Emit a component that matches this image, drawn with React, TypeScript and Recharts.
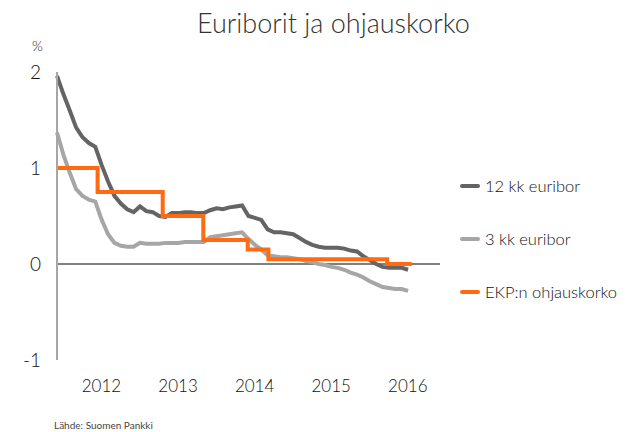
import { LineChart, Line, XAxis, YAxis, ReferenceLine } from "recharts"

// monthly values, first point = Dec 2011
const START = 2011.92
const euribor12 = [
  1.96, 1.77, 1.6, 1.42, 1.32, 1.26, 1.22, 1.03, 0.86, 0.71, 0.63, 0.57,
  0.54, 0.6, 0.55, 0.54, 0.5, 0.49, 0.53, 0.53, 0.54, 0.54, 0.53, 0.53,
  0.56, 0.58, 0.57, 0.59, 0.6, 0.61, 0.5, 0.48, 0.46, 0.36, 0.33, 0.33,
  0.32, 0.31, 0.27, 0.23, 0.2, 0.18, 0.17, 0.17, 0.17, 0.16, 0.14, 0.13,
  0.08, 0.04, 0.0, -0.03, -0.04, -0.04, -0.04, -0.06,
]
const euribor3 = [
  1.37, 1.14, 0.95, 0.78, 0.71, 0.67, 0.65, 0.46, 0.31, 0.22, 0.19, 0.18,
  0.18, 0.22, 0.21, 0.21, 0.21, 0.22, 0.22, 0.22, 0.23, 0.23, 0.23, 0.23,
  0.28, 0.29, 0.3, 0.31, 0.32, 0.33, 0.26, 0.2, 0.15, 0.09, 0.08, 0.07,
  0.07, 0.06, 0.05, 0.03, 0.02, 0.0, -0.01, -0.03, -0.04, -0.06, -0.09, -0.11,
  -0.14, -0.18, -0.21, -0.24, -0.25, -0.26, -0.26, -0.28,
]
const policyDates = [2011.92, 2012.45, 2013.3, 2013.83, 2014.41, 2014.68, 2016.23, 2016.55]
const policyRates = [1.0, 0.75, 0.5, 0.25, 0.15, 0.05, 0.0, 0.0]
const years = [2012, 2013, 2014, 2015, 2016]
const yTicks = [-1, 0, 1, 2]
const seriesNames = ["12 kk euribor", "3 kk euribor", "EKP:n ohjauskorko"]

const DARK = "#646464"
const LIGHT = "#a6a6a6"
const ORANGE = "#ff6a13"
const FONT = "Lato, 'Open Sans', sans-serif"

const euriborData = euribor12.map((v, i) => ({ t: START + i / 12, e12: v, e3: euribor3[i] }))
const policyData = policyDates.map((t, i) => ({ t, rate: policyRates[i] }))
const legendColors = [DARK, LIGHT, ORANGE]

// legend drawn outside the chart so it doesn't eat plot width
function LegendBox() {
  return (
    <div style={{ position: "absolute", left: 460, top: 176 }}>
      {seriesNames.map((name, i) => (
        <div key={name} style={{ display: "flex", alignItems: "center", height: 20, marginBottom: 33 }}>
          <span style={{ width: 20, height: 4, borderRadius: 2, background: legendColors[i], marginRight: 5 }} />
          <span style={{ fontSize: 16.5, fontWeight: 300, color: "#111" }}>{name}</span>
        </div>
      ))}
    </div>
  )
}

export default function App() {
  return (
    <div style={{ position: "absolute", left: 0, top: 0, width: 635, height: 432, overflow: "hidden", background: "#fff", fontFamily: FONT }}>
      <div style={{ position: "absolute", left: 197, top: 7, fontSize: 27, fontWeight: 300, lineHeight: "32px", color: "#333", whiteSpace: "nowrap" }}>
        Euriborit ja ohjauskorko
      </div>
      <div style={{ position: "absolute", left: 32, top: 37, fontSize: 14, fontWeight: 300, color: "#222" }}>%</div>
      <LineChart width={635} height={432} data={euriborData} margin={{ top: 72, right: 195, bottom: 42, left: 17 }}>
        <XAxis
          dataKey="t"
          type="number"
          domain={[2011.92, 2016.92]}
          ticks={years.map((y) => y + 0.5)}
          tickFormatter={(v) => `${Math.floor(v)}`}
          axisLine={false}
          tickLine={false}
          tickMargin={14}
          height={30}
          tick={{ fontSize: 17, fontWeight: 300, fill: "#111", fontFamily: FONT }}
          allowDuplicatedCategory={false}
        />
        <YAxis
          domain={[-1, 2]}
          ticks={yTicks}
          width={40}
          axisLine={{ stroke: LIGHT, strokeWidth: 2 }}
          tickLine={false}
          tickSize={0}
          tickMargin={16}
          tick={{ fontSize: 19, fontWeight: 300, fill: "#111", fontFamily: FONT }}
        />
        <ReferenceLine y={0} stroke="#7f7f7f" strokeWidth={2} />
        <Line dataKey="e3" name={seriesNames[1]} stroke={LIGHT} strokeWidth={4} dot={false} isAnimationActive={false} />
        <Line dataKey="e12" name={seriesNames[0]} stroke={DARK} strokeWidth={4} dot={false} isAnimationActive={false} />
        <Line data={policyData} dataKey="rate" name={seriesNames[2]} type="stepAfter" stroke={ORANGE} strokeWidth={4} dot={false} isAnimationActive={false} />
      </LineChart>
      <LegendBox />
      <div style={{ position: "absolute", left: 54, top: 420, fontSize: 10, lineHeight: "11px", color: "#444" }}>Lähde: Suomen Pankki</div>
    </div>
  )
}
